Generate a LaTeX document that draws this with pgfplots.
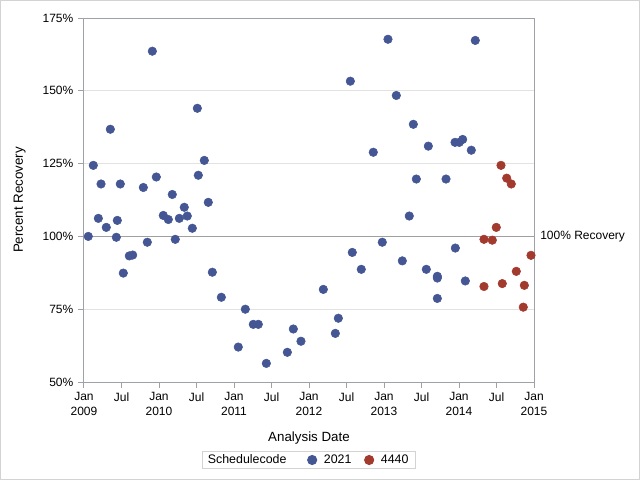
\documentclass[border=0pt]{standalone}
\usepackage{fontspec}
\setmainfont{Liberation Sans}
\usepackage{pgfplots}
\pgfplotsset{compat=1.18}
\definecolor{c1}{HTML}{445694}
\definecolor{c2}{HTML}{A23A2E}
\definecolor{axgray}{HTML}{9EA1A5}
\definecolor{gridgray}{HTML}{E2E2E2}
\definecolor{refgray}{HTML}{A0A0A0}
\definecolor{framegray}{HTML}{D3D3D3}
\begin{document}
\begin{tikzpicture}[x=1pt,y=1pt]
\useasboundingbox (0,0) rectangle (480,360);
\draw[framegray, line width=0.75pt] (0.375,0.375) rectangle (479.625,359.625);
\begin{axis}[
  at={(63pt,73.5pt)}, anchor=south west,
  scale only axis, width=337.5pt, height=273pt,
  xmin=2009, xmax=2015, ymin=50, ymax=175,
  clip=false,
  axis line style={axgray, line width=0.75pt},
  tick style={axgray, line width=0.75pt},
  tick align=outside, major tick length=4.5pt,
  xtick pos=left, ytick pos=left,
  xtick={2009,2009.5,2010,2010.5,2011,2011.5,2012,2012.5,2013,2013.5,2014,2014.5,2015},
  xticklabels={Jan\\2009,Jul,Jan\\2010,Jul,Jan\\2011,Jul,Jan\\2012,Jul,Jan\\2013,Jul,Jan\\2014,Jul,Jan\\2015},
  xticklabel style={align=center, font=\fontsize{9}{11.25}\selectfont, anchor=north, yshift=0pt},
  ytick={50,75,100,125,150,175},
  yticklabels={50\%,75\%,100\%,125\%,150\%,175\%},
  yticklabel style={font=\fontsize{9}{11}\selectfont},
  ymajorgrids, grid style={gridgray, line width=0.75pt},
  xlabel={Analysis Date}, ylabel={Percent Recovery},
  xlabel style={font=\fontsize{10}{12}\selectfont, at={(axis description cs:0.5,-0.155)}, anchor=center},
  ylabel style={font=\fontsize{10}{12}\selectfont, at={(axis description cs:-0.1427,0.5)}, anchor=center, rotate=0},
  legend style={at={(axis description cs:0.5,-0.2143)}, anchor=center, draw=framegray, line width=0.75pt,
    font=\fontsize{9.3}{11}\selectfont, legend columns=-1, inner xsep=5pt, inner ysep=1pt,
    nodes={inner xsep=0pt, inner ysep=1.5pt},
    /tikz/every odd column/.append style={column sep=5pt},
    /tikz/every even column/.append style={column sep=9.5pt}},
  legend cell align=left,
  legend image code/.code={\fill[#1] (0pt,0pt) circle (3.4pt);},
]
\addplot[refgray, line width=0.75pt, no marks, forget plot] coordinates {(2009,100) (2015,100)};
\addlegendimage{empty legend}
\addlegendentry{\hspace*{-6.25pt}Schedulecode\hspace*{6pt}}
\addplot[only marks, mark=*, color=c1, mark size=3.2pt, mark options={draw=c1, fill=c1, line width=0.4pt}] table {
x y
2009.057 100
2009.124 124.4
2009.191 106.2
2009.227 118
2009.297 103.1
2009.351 136.8
2009.431 99.7
2009.444 105.5
2009.484 118
2009.524 87.4
2009.604 93.3
2009.649 93.6
2009.791 116.8
2009.844 98
2009.911 163.6
2009.964 120.4
2010.057 107.2
2010.124 105.8
2010.177 114.4
2010.217 99
2010.271 106.2
2010.337 110
2010.377 107
2010.444 102.8
2010.511 144
2010.524 121
2010.604 126.1
2010.657 111.7
2010.711 87.7
2010.831 79.1
2011.057 62
2011.151 75
2011.257 69.8
2011.324 69.8
2011.431 56.4
2011.711 60.2
2011.791 68.2
2011.893 64
2012.191 81.8
2012.351 66.7
2012.391 71.9
2012.551 153.3
2012.577 94.5
2012.697 88.7
2012.857 128.9
2012.977 98
2013.053 167.7
2013.164 148.4
2013.244 91.6
2013.337 107
2013.391 138.5
2013.431 119.7
2013.564 88.7
2013.591 131
2013.711 86.3
2013.711 85.7
2013.711 78.7
2013.827 119.7
2013.951 96
2013.947 132.3
2014.004 132.3
2014.049 133.3
2014.084 84.7
2014.164 129.6
2014.217 167.3
};
\addlegendentry{2021}
\addplot[only marks, mark=*, color=c2, mark size=3.2pt, mark options={draw=c2, fill=c2, line width=0.4pt}] table {
x y
2014.333 99
2014.333 82.8
2014.444 98.7
2014.497 103.1
2014.560 124.4
2014.577 83.8
2014.636 120
2014.697 118
2014.764 88
2014.857 75.7
2014.871 83.2
2014.960 93.5
};
\addlegendentry{4440}
\node[anchor=west, font=\fontsize{9}{11}\selectfont, inner sep=0pt, xshift=4.5pt] at (axis cs:2015,100) {100\% Recovery};
\end{axis}
\end{tikzpicture}
\end{document}
